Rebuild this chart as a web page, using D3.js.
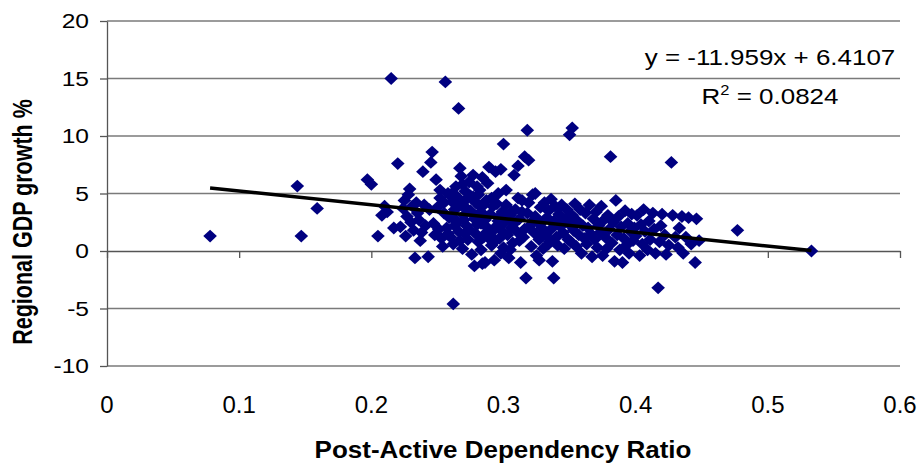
<!DOCTYPE html>
<html>
<head>
<meta charset="utf-8">
<script src="https://cdn.jsdelivr.net/npm/d3@7"></script>
<style>
  html, body { margin: 0; padding: 0; background: #fff; }
  svg { display: block; font-family: "Liberation Sans", Arial, sans-serif; }
</style>
</head>
<body>
<svg id="chart" width="921" height="467"></svg>
<script>
// ---- Data ----
const dependencyRatio = [
  0.078,0.144,0.147,0.159,0.197,0.200,0.205,0.208,0.210,0.212,0.215,0.217,0.220,0.256,0.266,0.262,0.477,0.533,
  0.222,0.224,0.225,0.226,0.227,0.228,0.229,0.230,0.231,0.232,0.233,0.234,0.235,0.236,0.237,0.238,0.239,0.240,0.241,0.243,0.244,0.245,0.246,0.247,0.248,0.249,0.250,0.251,0.252,0.253,0.254,0.255,0.257,0.258,0.259,
  0.260,0.261,0.262,0.263,0.264,0.265,0.266,0.267,0.268,0.269,0.270,0.271,0.272,0.273,0.274,0.275,0.276,0.277,0.278,0.279,0.280,0.281,0.282,0.283,0.284,0.285,0.286,0.287,0.288,0.289,0.290,0.291,0.292,0.293,0.294,0.295,0.296,0.297,0.298,0.299,0.300,0.300,0.262,0.266,0.271,0.275,0.279,0.283,0.287,0.291,0.295,0.298,0.268,0.273,0.281,0.289,0.278,0.284,
  0.252,0.255,0.258,0.261,0.263,0.265,0.267,0.269,0.270,0.272,0.274,0.276,0.277,0.279,0.280,0.282,0.283,0.285,0.286,0.288,0.290,0.292,0.294,0.296,0.297,0.299,
  0.301,0.302,0.303,0.304,0.305,0.306,0.307,0.308,0.309,0.310,0.311,0.312,0.313,0.314,0.315,0.316,0.317,0.318,0.318,0.319,0.320,0.321,0.322,0.323,0.324,0.325,0.326,0.327,0.328,0.329,0.330,0.331,0.332,0.333,0.334,0.335,0.336,0.337,0.338,0.338,0.339,0.340,0.341,0.342,0.343,0.344,0.345,0.346,0.347,0.348,0.349,0.350,0.350,0.352,0.306,0.312,0.322,0.328,0.334,0.344,
  0.302,0.305,0.308,0.311,0.314,0.316,0.319,0.324,0.327,0.331,0.336,
  0.351,0.352,0.353,0.354,0.355,0.356,0.357,0.358,0.359,0.360,0.361,0.362,0.363,0.364,0.365,0.366,0.367,0.368,0.369,0.370,0.371,0.372,0.373,0.374,0.375,0.376,0.377,0.378,0.379,0.380,0.381,0.382,0.383,0.384,0.385,0.386,0.387,0.388,0.389,0.390,0.391,0.392,0.393,0.394,0.395,0.396,0.397,0.398,0.399,
  0.400,0.401,0.403,0.404,0.405,0.406,0.407,0.409,0.410,0.411,0.413,0.414,0.415,0.417,0.418,0.419,0.420,0.422,0.423,0.425,0.427,0.428,0.430,0.432,0.433,0.435,0.436,0.438,0.440,0.442,0.445,0.446,0.448
];
const gdpGrowth = [
  1.3,5.65,1.3,3.7,6.2,5.8,1.3,3.1,3.9,3.4,15.0,2.0,7.6,14.7,12.4,-4.6,1.8,0.0,
  2.1,3.7,4.4,1.3,3.0,4.9,5.4,2.5,3.9,1.8,-0.6,4.2,3.3,2.7,0.9,1.6,6.9,4.0,2.2,-0.5,3.6,7.7,8.6,2.4,1.4,6.2,3.8,1.9,4.6,1.1,0.4,3.3,2.0,5.0,2.9,
  1.2,4.3,0.6,3.6,5.6,2.5,1.7,7.2,4.0,0.2,3.1,5.2,2.2,1.0,6.0,3.5,-0.3,4.7,2.8,1.5,5.6,0.8,3.9,2.4,6.4,1.2,-1.0,4.4,2.0,7.3,3.2,0.5,1.8,-0.8,6.9,4.1,2.6,1.1,7.1,3.4,9.3,0.3,2.9,3.9,1.5,4.8,3.0,0.1,1.6,4.6,2.2,-0.2,6.5,3.6,4.9,1.1,-1.3,-1.1,
  5.3,4.2,1.5,5.0,2.2,4.7,0.9,5.8,2.7,4.5,1.9,3.3,6.6,4.2,2.3,5.3,3.4,4.0,2.7,5.9,1.5,3.9,0.9,5.0,3.0,1.7,
  2.5,4.0,1.4,-0.6,3.1,2.0,0.7,6.6,3.6,1.7,7.4,2.8,-1.0,4.4,1.2,8.2,-2.35,10.5,3.3,7.9,2.2,0.4,4.9,1.6,3.0,-0.4,2.5,1.0,3.8,2.0,0.2,4.2,1.4,2.9,3.5,0.8,1.9,-0.9,-2.35,2.6,3.9,1.2,0.5,3.2,2.1,4.0,1.6,0.2,2.8,3.6,1.0,10.1,2.3,10.7,3.4,0.9,2.6,1.2,0.6,2.6,
  5.3,0.1,2.4,4.6,3.4,1.9,4.2,5.0,-0.8,2.7,4.5,
  0.8,3.1,1.8,4.1,0.4,2.6,1.4,3.6,-0.2,2.2,1.1,3.3,0.6,2.0,4.0,1.5,-0.5,2.8,1.0,3.4,0.3,2.2,1.6,3.9,-0.4,2.7,1.2,0.2,3.1,1.9,8.2,0.7,2.5,-0.9,4.4,1.4,3.0,0.1,2.1,-1.0,1.1,3.5,0.5,2.4,-0.2,1.7,3.2,0.9,2.0,
  1.3,3.1,-0.4,2.3,0.6,3.6,1.7,0.1,2.6,1.0,3.3,1.9,-0.2,-3.2,0.8,2.2,3.2,1.4,-0.3,0.5,7.7,3.1,1.2,0.3,2.0,3.0,-0.2,1.2,2.9,0.6,-1.0,2.8,0.9
];
const xTicks = [0, 0.1, 0.2, 0.3, 0.4, 0.5, 0.6];
const xTickLabels = ["0", "0.1", "0.2", "0.3", "0.4", "0.5", "0.6"];
const yTicks = [-10, -5, 0, 5, 10, 15, 20];
const trendSlope = -11.959;
const trendIntercept = 6.4107;
const equationText = "y = -11.959x + 6.4107";
const rSquaredValue = "0.0824";
const xTitle = "Post-Active Dependency Ratio";
const yTitle = "Regional GDP growth %";

// ---- Chart ----
const svg = d3.select("#chart");
const x = d3.scaleLinear().domain([0, 0.6]).range([107, 900]);
const y = d3.scaleLinear().domain([-10, 20]).range([366, 21]);
const points = dependencyRatio.map((d, i) => ({ x: d, y: gdpGrowth[i] }));

// horizontal gridlines
svg.append("g").selectAll("line")
  .data(yTicks.filter(t => t !== 0))
  .join("line")
  .attr("x1", x(0)).attr("x2", x(0.6))
  .attr("y1", d => y(d)).attr("y2", d => y(d))
  .attr("stroke", "#7a7a7a").attr("stroke-width", 1.3);

// y axis
const yAxis = svg.append("g")
  .attr("transform", `translate(${x(0)},0)`)
  .call(d3.axisLeft(y).tickValues(yTicks).tickSize(7).tickSizeOuter(0).tickFormat(""));
yAxis.select(".domain").attr("stroke", "#555").attr("stroke-width", 1.3);
yAxis.selectAll(".tick line").attr("stroke", "#555").attr("stroke-width", 1.3);

// y tick labels (horizontally stretched like the reference)
svg.append("g").selectAll("text")
  .data(yTicks)
  .join("text")
  .attr("transform", d => `translate(89,${y(d)}) scale(1.17,1)`)
  .attr("text-anchor", "end")
  .attr("dy", "0.35em")
  .attr("font-size", 21)
  .attr("fill", "#000")
  .text(d => d);

// x axis at y = 0
const xAxis = svg.append("g")
  .attr("transform", `translate(0,${y(0)})`)
  .call(d3.axisBottom(x).tickValues(xTicks).tickSize(7).tickSizeOuter(0).tickFormat(""));
xAxis.select(".domain").attr("stroke", "#555").attr("stroke-width", 1.3);
xAxis.selectAll(".tick line").attr("stroke", "#555").attr("stroke-width", 1.3);

// x tick labels at bottom
svg.append("g").selectAll("text")
  .data(xTicks)
  .join("text")
  .attr("transform", d => `translate(${x(d)},413)`)
  .attr("text-anchor", "middle")
  .attr("font-size", 24)
  .attr("fill", "#000")
  .text((d, i) => xTickLabels[i]);

// points (diamonds)
svg.append("g").selectAll("path")
  .data(points)
  .join("path")
  .attr("transform", d => `translate(${x(d.x)},${y(d.y)})`)
  .attr("d", "M0,-6.4L6.8,0L0,6.4L-6.8,0Z")
  .attr("fill", "#000080");

// trend line
const xExtent = d3.extent(dependencyRatio);
svg.append("line")
  .attr("x1", x(xExtent[0])).attr("y1", y(trendSlope * xExtent[0] + trendIntercept))
  .attr("x2", x(xExtent[1])).attr("y2", y(trendSlope * xExtent[1] + trendIntercept))
  .attr("stroke", "#000").attr("stroke-width", 3.5);

// equation & R²
svg.append("text")
  .attr("transform", "translate(770,65) scale(1.18,1)")
  .attr("text-anchor", "middle")
  .attr("font-size", 22)
  .text(equationText);

const r2 = svg.append("text")
  .attr("transform", "translate(770,104) scale(1.18,1)")
  .attr("text-anchor", "middle")
  .attr("font-size", 22);
r2.append("tspan").text("R");
r2.append("tspan").attr("font-size", 14).attr("dy", -9).text("2");
r2.append("tspan").attr("dy", 9).text(" = " + rSquaredValue);

// axis titles
svg.append("text")
  .attr("transform", "translate(503,458) scale(1.13,1)")
  .attr("text-anchor", "middle")
  .attr("font-size", 23)
  .attr("font-weight", "bold")
  .text(xTitle);

svg.append("text")
  .attr("transform", "translate(32,222) scale(1.25,1) rotate(-90)")
  .attr("text-anchor", "middle")
  .attr("font-size", 21.5)
  .attr("font-weight", "bold")
  .text(yTitle);
</script>
</body>
</html>
